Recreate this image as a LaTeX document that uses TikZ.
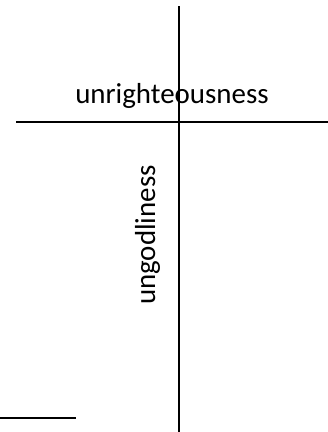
\documentclass[tikz,border=0pt]{standalone}
\usepackage{fontspec}
\setmainfont{Carlito}
\usetikzlibrary{positioning}

\begin{document}
\begin{tikzpicture}[
  x=0.75pt,y=-0.75pt,
  rule/.style={draw=black,line width=1.3pt},
  word/.style={font=\fontsize{21.7}{24}\selectfont,inner sep=0pt}]
  \useasboundingbox (0,0) rectangle (328,432);
  % cross
  \coordinate (vtop) at (179,6);
  \coordinate (vbot) at (179,432);
  \coordinate (hleft) at (16,122);
  \coordinate (hright) at (328,122);
  \draw[rule] (vtop)--(vbot);
  \draw[rule] (hleft)--(hright);
  % short stroke bottom left
  \coordinate (sleft) at (0,418);
  \coordinate (sright) at (76,418);
  \draw[rule] (sleft)--(sright);
  % words
  \node[word,anchor=base] (unr) at (172,103) {unrighteousness};
  \node[word,rotate=90,anchor=base] (ung) at (155,235) {ungodliness};
\end{tikzpicture}
\end{document}
